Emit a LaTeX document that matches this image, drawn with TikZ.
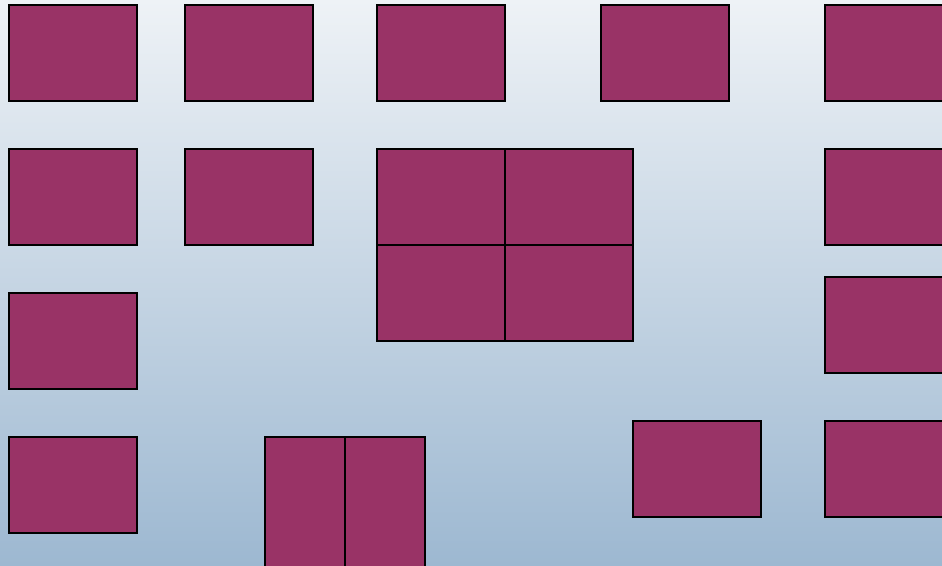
\documentclass[tikz,border=0pt]{standalone}
\definecolor{plum}{RGB}{153,51,102}
\definecolor{bgtop}{RGB}{238,242,246}
\definecolor{bgbot}{RGB}{157,184,209}
\tikzset{
  cell/.style={rectangle, draw=black, line width=2pt, fill=plum, inner sep=0pt,
    minimum width=128pt, minimum height=96pt},
  tallcell/.style={cell, minimum width=80pt, minimum height=134pt}
}
\begin{document}
\begin{tikzpicture}[x=1pt,y=-1pt]
\shade[top color=bgtop, bottom color=bgbot] (0,0) rectangle (942,565);
\useasboundingbox (0,0) rectangle (942,565);
% row 1
\node[cell] (a1) at (73,53) {};
\node[cell] (a2) at (249,53) {};
\node[cell] (a3) at (441,53) {};
\node[cell] (a4) at (665,53) {};
\node[cell] (a5) at (889,53) {};
% row 2
\node[cell] (b1) at (73,197) {};
\node[cell] (b2) at (249,197) {};
\node[cell] (b3) at (441,197) {};
\node[cell] (b4) at (569,197) {};
\node[cell] (b5) at (889,197) {};
% row 3
\node[cell] (c1) at (73,341) {};
\node[cell] (c3) at (441,293) {};
\node[cell] (c4) at (569,293) {};
\node[cell] (c5) at (889,325) {};
% row 4
\node[cell] (d1) at (73,485) {};
\node[tallcell] (d2) at (305,504) {};
\node[tallcell] (d3) at (385,504) {};
\node[cell] (d4) at (697,469) {};
\node[cell] (d5) at (889,469) {};
\end{tikzpicture}
\end{document}
